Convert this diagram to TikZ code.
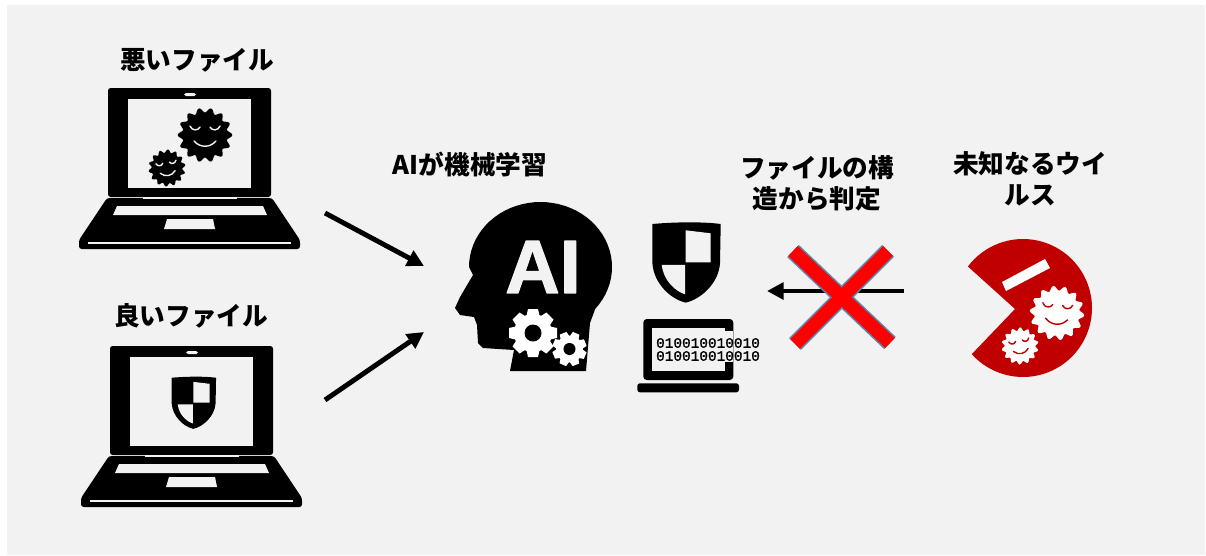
\documentclass[tikz,border=0pt]{standalone}
\usepackage{fontspec}
\setmainfont{Liberation Sans}
\newfontfamily\jpfont{Noto Sans CJK JP}
\newfontfamily\binfont{Liberation Mono}[FakeBold=1.2]
\newfontfamily\aifont{Liberation Sans Bold}[FakeBold=1.6]
\usetikzlibrary{arrows.meta}
\definecolor{panelgray}{HTML}{F2F2F2}
\definecolor{viruscol}{HTML}{C00000}
\definecolor{crossedge}{HTML}{5B87AE}
\tikzset{
  label jp/.style={font=\jpfont\bfseries\fontsize{14.6}{17.5}\selectfont,text=black,align=center,inner sep=0pt},
  flow/.style={-{Triangle[length=9.5pt,width=9.5pt]},line width=2.8pt,line cap=butt,black},
  facepen/.style={line width=0.8pt,line cap=round}
}
% #1,#2 offset
\newcommand{\laptopicon}[2]{
\begin{scope}[shift={(#1,#2)}]
\fill[black,rounded corners=1.5pt] (108,88) rectangle (271,197);
\fill[black,rounded corners=1.5pt] (107,198) -- (272,198) -- (300,240) -- (300,249) -- (79,249) -- (79,240) -- cycle;
\fill[panelgray] (128,99) rectangle (251,188);
\fill[panelgray,rounded corners=1pt] (184,93) rectangle (196,96);
\fill[panelgray] (143,196.5) rectangle (237,199);
\fill[panelgray] (117,206) -- (263,206) -- (267,215) -- (113,215) -- cycle;
\fill[panelgray] (167,219) -- (213,219) -- (215,229) -- (164,229) -- cycle;
\fill[panelgray] (88,241.5) rectangle (291,243.7);
\end{scope}
}
% #1,#2 centre, #3 size, #4 tilt, #5 body, #6 face
\newcommand{\virusicon}[6]{
\begin{scope}[shift={(#1,#2)},scale=#3,rotate=#4]
\fill[#5] plot[domain=0:360,samples=113] ({27*(0.92+0.09*cos(14*\x))*cos(\x)},{27*(0.92+0.09*cos(14*\x))*sin(\x)}) -- cycle;
\draw[facepen,#6] (-15,-9) .. controls (-13,-4) and (-7,-4) .. (-5,-8);
\draw[facepen,#6] (5,-8) .. controls (7,-4) and (13,-4) .. (15,-9);
\draw[facepen,#6] (-11,6) .. controls (-5,13) and (5,13) .. (11,6);
\end{scope}
}
% #1,#2 centre, #3 size
\newcommand{\shieldicon}[3]{
\begin{scope}[shift={(#1,#2)},scale=#3]
\fill[black] (-33.3,-39.3) .. controls (-15,-41) and (15,-42) .. (35,-39.3) -- (34.3,0) .. controls (33,20) and (15,36) .. (0,39.3) .. controls (-15,36) and (-32,20) .. (-33.3,0) -- cycle;
\fill[panelgray] (0,-33) -- (25,-30) -- (25,-1) -- (0,-1) -- cycle;
\fill[panelgray] (-24,1.5) -- (-0.7,1.5) -- (-0.7,31) .. controls (-10,28) and (-22,18) .. (-24,1.5) -- cycle;
\end{scope}
}
% #1,#2 centre, #3 size, #4 turn
\newcommand{\gearicon}[4]{
\begin{scope}[shift={(#1,#2)},scale=#3,rotate=#4]
\foreach \a in {0,45,...,315} \fill[white,rotate=\a] (-5,-24) -- (5,-24) -- (7,-15) -- (-7,-15) -- cycle;
\fill[white] (0,0) circle (19);
\fill[black] (0,0) circle (8.5);
\end{scope}
}
\begin{document}
\begin{tikzpicture}[line cap=round,line join=round,x=0.02cm,y=-0.02cm]
\useasboundingbox (0,0) rectangle (1206,555);
\fill[panelgray] (7,5) rectangle (1205,555);
% left column
\node[label jp] (badlabel) at (197,60) {悪いファイル};
\laptopicon{0}{0}
\virusicon{205}{135}{1}{0}{black}{panelgray}
\virusicon{167}{168}{0.68}{10}{black}{panelgray}
\node[label jp] (goodlabel) at (191,316) {良いファイル};
\laptopicon{2}{258}
\shieldicon{193.3}{403.3}{0.65}
% head
\node[label jp] (learnlabel) at (470,164) {AIが機械学習};
\fill[black] (510,371) -- (514,350) -- (483,348) -- (478,343) -- (477,325) -- (474,317) -- (460,315) -- (455,308) -- (460,297) -- (473,275) -- plot[domain=180:400,samples=45] ({540.5+71.5*cos(\x)},{267+65*sin(\x)}) -- (590,323) -- (586,371) -- cycle;
\node[font=\aifont\fontsize{43}{43}\selectfont,text=panelgray,inner sep=0pt] (ailabel) at (543,267) {AI};
\gearicon{533}{333}{1}{0}
\gearicon{569.5}{349}{0.71}{22}
% scanner
\shieldicon{685.7}{263.3}{1}
\fill[black,rounded corners=2pt] (643.3,319) rectangle (733.3,380);
\fill[panelgray] (652,327.7) rectangle (725,371);
\fill[panelgray] (725,331) rectangle (733.3,362);
\fill[black,rounded corners=1.5pt] (637.3,383.3) rectangle (739,392.3);
\node[font=\binfont\fontsize{8.2}{7.4}\selectfont,align=left,inner sep=0pt] (bitlabel) at (708,349.5) {010010010010\\010010010010};
% right side
\node[label jp] (structlabel) at (817,183) {ファイルの構\\造から判定};
\node[label jp] (unknownlabel) at (1030,179) {未知なるウイ\\ルス};
\coordinate (virusout) at (904,291);
\coordinate (scanin) at (767,291);
\draw[flow] (virusout) -- (scanin);
\coordinate (crossa) at (793,251);
\coordinate (crossb) at (890,343);
\coordinate (crossc) at (888,251);
\coordinate (crossd) at (795,344);
\draw[crossedge,line width=9.6pt,line cap=butt] (crossa) -- (crossb);
\draw[crossedge,line width=9.6pt,line cap=butt] (crossc) -- (crossd);
\draw[red,line width=7.8pt,line cap=butt] (crossa) -- (crossb);
\draw[red,line width=7.8pt,line cap=butt] (crossc) -- (crossd);
\fill[viruscol] (1015,309) -- plot[domain=217:498,samples=70] ({1023+69*cos(\x)},{308+69*sin(\x)}) -- cycle;
\fill[white] (1002,282) -- (1045,259) -- (1050,268) -- (1006,291) -- cycle;
\virusicon{1057}{313}{1}{-5}{white}{viruscol}
\virusicon{1020}{346}{0.68}{12}{white}{viruscol}
% arrows into head
\coordinate (badout) at (325,213);
\coordinate (goodout) at (325,400);
\coordinate (headina) at (424,266);
\coordinate (headinb) at (424,332);
\draw[flow] (badout) -- (headina);
\draw[flow] (goodout) -- (headinb);
\end{tikzpicture}
\end{document}
